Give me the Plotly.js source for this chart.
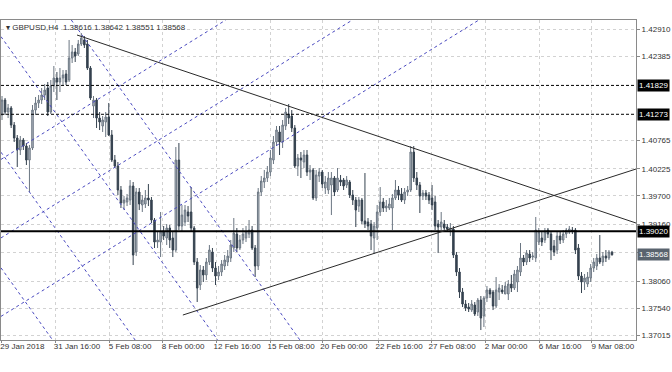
<!DOCTYPE html>
<html><head><meta charset="utf-8">
<script src="https://cdn.plot.ly/plotly-3.0.1.min.js"></script>
<style>html,body{margin:0;padding:0;background:#fff}#chart{width:672px;height:372px}</style>
</head><body><div id="chart"></div>
<script>
const symbolTitle = "GBPUSD,H4";
const lastBarText = ["1.38616", "1.38642", "1.38551", "1.38568"];

const open = [1.41259,1.41548,1.41317,1.41394,1.41066,1.40816,1.40585,1.40778,1.40662,1.40392,
1.40624,1.41355,1.41490,1.41548,1.41644,1.41779,1.41317,1.41818,1.41972,1.41895,
1.41972,1.42049,1.41933,1.42357,1.42473,1.42434,1.42627,1.42704,1.42627,1.42164,
1.41432,1.41548,1.41201,1.41047,1.41124,1.41221,1.40874,1.40392,1.40277,1.39815,
1.39564,1.39584,1.39622,1.39892,1.38621,1.39776,1.39526,1.39545,1.39661,1.39622,
1.39237,1.38813,1.38813,1.39006,1.38890,1.39083,1.38890,1.38659,1.40392,1.39121,
1.39198,1.39391,1.39391,1.39083,1.38428,1.37985,1.38274,1.38178,1.38428,1.38621,
1.38312,1.38158,1.38235,1.38351,1.38428,1.38505,1.38698,1.38967,1.38698,1.38852,
1.38890,1.38967,1.39044,1.38698,1.38351,1.39776,1.39969,1.40046,1.40161,1.40392,
1.40739,1.40932,1.40739,1.41047,1.41278,1.41240,1.41009,1.40277,1.40431,1.40354,
1.40489,1.40161,1.40200,1.39661,1.40084,1.40161,1.39853,1.39815,1.39911,1.40046,
1.39815,1.40007,1.40007,1.39911,1.39969,1.39718,1.39622,1.39506,1.39622,1.39218,
1.39198,1.39160,1.38890,1.39083,1.39391,1.39584,1.39468,1.39468,1.39468,1.39661,
1.39815,1.39738,1.39622,1.39776,1.39815,1.40547,1.40046,1.39911,1.39699,1.39757,
1.39718,1.39661,1.39584,1.39160,1.39102,1.39160,1.39102,1.39044,1.39063,1.38563,
1.38235,1.37850,1.37619,1.37561,1.37503,1.37600,1.37465,1.37696,1.37388,1.37735,
1.37889,1.37850,1.37580,1.37850,1.37889,1.37812,1.37812,1.38004,1.37927,1.38043,
1.38235,1.38505,1.38428,1.38582,1.38524,1.38505,1.38813,1.38890,1.38852,1.39044,
1.38967,1.38736,1.38659,1.38929,1.38852,1.38967,1.39006,1.39044,1.39044,1.38698,
1.38158,1.38043,1.38004,1.38120,1.38312,1.38351,1.38505,1.38428,1.38543,1.38505,
1.38616];

const high = [1.41625,1.41587,1.41471,1.41432,1.41124,1.40874,1.40855,1.40816,1.40720,1.40681,
1.41452,1.41606,1.41644,1.41779,1.41856,1.41895,1.41933,1.42203,1.42087,1.42164,
1.42126,1.42126,1.42704,1.42607,1.42550,1.42704,1.42838,1.42781,1.42704,1.42203,
1.41625,1.41587,1.41317,1.41240,1.41317,1.41490,1.40970,1.40489,1.40354,1.39892,
1.39699,1.39738,1.40007,1.39969,1.39853,1.39853,1.39718,1.39815,1.39930,1.39680,
1.39275,1.39006,1.39391,1.39121,1.39160,1.39141,1.39006,1.40643,1.40720,1.39526,
1.39526,1.39506,1.39872,1.39121,1.38505,1.38370,1.38351,1.38505,1.38755,1.38698,
1.38428,1.38351,1.38466,1.38563,1.38659,1.38852,1.39275,1.39083,1.38948,1.39083,
1.39121,1.39237,1.39121,1.38755,1.39853,1.40084,1.40200,1.40277,1.40585,1.40855,
1.41047,1.41047,1.41163,1.41394,1.41471,1.41355,1.41066,1.40508,1.40547,1.40585,
1.40585,1.40296,1.40238,1.40200,1.40238,1.40200,1.40084,1.40161,1.40161,1.40084,
1.40238,1.40104,1.40046,1.40084,1.40007,1.39815,1.39680,1.39680,1.39661,1.40142,
1.39275,1.39237,1.39198,1.39526,1.39872,1.39661,1.39622,1.39661,1.39738,1.40007,
1.39892,1.39853,1.39853,1.39892,1.40662,1.40662,1.40161,1.39969,1.39815,1.39815,
1.39776,1.39911,1.39699,1.39237,1.39391,1.39237,1.39160,1.39179,1.39121,1.38621,
1.38312,1.37927,1.37696,1.37638,1.37696,1.37658,1.37735,1.37773,1.37773,1.37966,
1.37927,1.37889,1.38139,1.38004,1.37985,1.38043,1.38081,1.38178,1.38274,1.38351,
1.38794,1.38563,1.38659,1.38659,1.38621,1.39295,1.39083,1.39006,1.39083,1.39083,
1.39006,1.38852,1.39006,1.39006,1.39044,1.39083,1.39121,1.39102,1.39083,1.38775,
1.38235,1.38197,1.38235,1.38389,1.38505,1.38582,1.38948,1.38621,1.38659,1.38659,
1.38642];

const low = [1.41163,1.41259,1.41201,1.41009,1.40739,1.40258,1.40489,1.40585,1.40296,1.39776,
1.40585,1.41259,1.41394,1.41471,1.41548,1.41240,1.41278,1.41702,1.41548,1.41702,
1.41837,1.41837,1.41895,1.42261,1.42280,1.42395,1.42588,1.42550,1.42126,1.41548,
1.41201,1.41009,1.40970,1.40932,1.40835,1.40855,1.40354,1.40238,1.39718,1.39468,
1.39429,1.39506,1.39526,1.38370,1.38543,1.39429,1.39391,1.39468,1.39506,1.39179,
1.38698,1.38698,1.38524,1.38852,1.38755,1.38698,1.38524,1.38621,1.39044,1.39006,
1.39121,1.39198,1.39006,1.38370,1.37658,1.37889,1.38043,1.38081,1.38370,1.38235,
1.37985,1.38081,1.38158,1.38274,1.38351,1.38428,1.38621,1.38621,1.38659,1.38775,
1.38813,1.38890,1.38659,1.38139,1.38274,1.39699,1.39853,1.39969,1.40084,1.40315,
1.40662,1.40489,1.40624,1.40970,1.41086,1.40932,1.40238,1.40084,1.40046,1.40238,
1.40084,1.40007,1.39622,1.39603,1.39969,1.39853,1.39738,1.39738,1.39333,1.39699,
1.39776,1.39892,1.39815,1.39853,1.39661,1.39526,1.39102,1.39391,1.39160,1.39083,
1.39044,1.38659,1.38582,1.38852,1.39314,1.39391,1.39391,1.39429,1.39044,1.39622,
1.39622,1.39584,1.39545,1.39699,1.39776,1.39969,1.39815,1.39372,1.39622,1.39622,
1.39545,1.39429,1.39044,1.38601,1.39044,1.39006,1.39006,1.38929,1.38505,1.38158,
1.37735,1.37561,1.37484,1.37465,1.37465,1.37388,1.37388,1.37118,1.37176,1.37658,
1.37735,1.37503,1.37542,1.37696,1.37812,1.37812,1.37696,1.37850,1.37889,1.37850,
1.38158,1.38351,1.38370,1.38428,1.38466,1.38428,1.38755,1.38736,1.38794,1.38890,
1.38466,1.38543,1.38582,1.38775,1.38794,1.38890,1.38967,1.38967,1.38582,1.38081,
1.37831,1.37889,1.37946,1.38043,1.38235,1.38274,1.38389,1.38351,1.38428,1.38466,
1.38551];

const close = [1.41548,1.41317,1.41394,1.41066,1.40816,1.40585,1.40778,1.40662,1.40392,1.40624,
1.41355,1.41490,1.41548,1.41644,1.41741,1.41317,1.41818,1.41972,1.41895,1.41972,
1.42030,1.41895,1.42357,1.42473,1.42395,1.42627,1.42742,1.42607,1.42164,1.41587,
1.41548,1.41201,1.41124,1.41163,1.41221,1.40874,1.40392,1.40277,1.39815,1.39564,
1.39622,1.39661,1.39892,1.38563,1.39776,1.39545,1.39622,1.39661,1.39622,1.39237,
1.38813,1.38852,1.39006,1.38929,1.39083,1.38852,1.38659,1.40392,1.39121,1.39333,
1.39429,1.39314,1.39083,1.38428,1.37927,1.38274,1.38178,1.38428,1.38659,1.38312,
1.38158,1.38235,1.38389,1.38466,1.38543,1.38755,1.38986,1.38698,1.38852,1.38967,
1.39006,1.39044,1.38698,1.38351,1.39776,1.39988,1.40046,1.40161,1.40431,1.40739,
1.40970,1.40739,1.41066,1.41317,1.41201,1.41009,1.40277,1.40431,1.40392,1.40489,
1.40161,1.40200,1.39661,1.40104,1.40161,1.39930,1.39969,1.40046,1.40046,1.39776,
1.40046,1.39969,1.39892,1.40007,1.39718,1.39622,1.39429,1.39622,1.39218,1.39160,
1.39121,1.38929,1.39121,1.39391,1.39584,1.39468,1.39506,1.39545,1.39661,1.39815,
1.39718,1.39622,1.39776,1.39815,1.40547,1.40046,1.39911,1.39699,1.39757,1.39699,
1.39622,1.39526,1.39121,1.39102,1.39198,1.39083,1.39063,1.39083,1.38563,1.38235,
1.37850,1.37619,1.37542,1.37523,1.37619,1.37426,1.37696,1.37349,1.37735,1.37889,
1.37812,1.37580,1.37889,1.37927,1.37850,1.37966,1.38004,1.37927,1.38197,1.38274,
1.38505,1.38428,1.38601,1.38505,1.38543,1.39044,1.39006,1.38813,1.39025,1.38967,
1.38659,1.38621,1.38929,1.38852,1.38967,1.39044,1.39063,1.39025,1.38659,1.38158,
1.38043,1.38120,1.38139,1.38312,1.38428,1.38505,1.38428,1.38543,1.38505,1.38621,
1.38568];

const timeTickBar = [-0.2, 17.7, 35.1, 52.5, 70.2, 87.9, 105.2, 123.3, 140.7, 158.4, 176.1, 193.4];
const timeTickText = ["29 Jan 2018","31 Jan 16:00","5 Feb 08:00","8 Feb 00:00","12 Feb 16:00","15 Feb 08:00",
  "20 Feb 00:00","22 Feb 16:00","27 Feb 08:00","2 Mar 00:00","6 Mar 16:00","9 Mar 08:00"];
const priceTicks = [1.42910,1.42385,1.40765,1.40225,1.39700,1.39160,1.38620,1.38060,1.37540,1.37015];
const priceTickText = ["1.42910","1.42385","1.40765","1.40225","1.39700","1.39160","","1.38060","1.37540","1.37015"];

const dashedLevels = [1.41829, 1.41273];
const supportLevel = 1.39020;
const lastPrice = 1.38568;
// trend lines: [bar0, price0, bar1, price1]
const trendLines = [[24.6, 1.42800, 207.87, 1.39179], [59.3, 1.37407, 207.87, 1.40219]];
const channelLines = [
  [22.72, 1.43089, 97.67, 1.36926],
  [-0.33, 1.42769, 70.72, 1.36926],
  [-0.33, 1.40543, 43.65, 1.36926],
  [-0.33, 1.38316, 16.59, 1.36926],
  [-0.33, 1.40404, 73.38, 1.43089],
  [-0.33, 1.38892, 114.89, 1.43089],
  [-0.33, 1.37381, 156.36, 1.43089]
];

const barPos = open.map((_, i) => i);
const FONT = "Liberation Sans, Arial, sans-serif";

const shapes = [];
channelLines.forEach(l => shapes.push({type:"line", xref:"x", yref:"y", x0:l[0], y0:l[1], x1:l[2], y1:l[3],
  line:{color:"#4a4ac0", width:1, dash:"3px,3px"}}));
dashedLevels.forEach(p => shapes.push({type:"line", xref:"paper", yref:"y", x0:0, x1:1, y0:p, y1:p,
  line:{color:"#000", width:1, dash:"3px,2px"}}));
shapes.push({type:"line", xref:"paper", yref:"y", x0:0, x1:1, y0:supportLevel, y1:supportLevel,
  line:{color:"#000", width:2}});
trendLines.forEach(l => shapes.push({type:"line", xref:"x", yref:"y", x0:l[0], y0:l[1], x1:l[2], y1:l[3],
  line:{color:"#2a2a2a", width:1}}));

const annotations = [];
annotations.push({xref:"paper", yref:"paper", x:0, y:1, xanchor:"left", yanchor:"top", xshift:3, yshift:-1,
  showarrow:false, text:"\u25BE " + symbolTitle + "  " + lastBarText.join(" "),
  font:{family:FONT, size:8, color:"#333"}});
function priceBox(p, txt, bg){
  annotations.push({xref:"paper", yref:"y", x:1, y:p, xanchor:"left", yanchor:"middle", xshift:1,
    showarrow:false, text:txt, bgcolor:bg, borderpad:1, font:{family:FONT, size:8, color:"#fff"}});
}
priceBox(dashedLevels[0], "1.41829", "#000");
priceBox(dashedLevels[1], "1.41273", "#000");
priceBox(supportLevel, "1.39020", "#000");
priceBox(lastPrice, "1.38568", "#59636e");

const trace = {
  type:"candlestick", x:barPos, open:open, high:high, low:low, close:close,
  increasing:{line:{color:"#6b7682", width:1}, fillcolor:"#b6bdc5"},
  decreasing:{line:{color:"#35424f", width:1}, fillcolor:"#35424f"},
  whiskerwidth:0, hoverinfo:"skip", showlegend:false
};

const layout = {
  width:672, height:372,
  margin:{l:1, r:36, t:20, b:32},
  paper_bgcolor:"#fff", plot_bgcolor:"#fff",
  showlegend:false, dragmode:false,
  font:{family:FONT, size:8, color:"#333"},
  xaxis:{type:"linear", range:[-0.328, 207.87], rangeslider:{visible:false},
    tickmode:"array", tickvals:timeTickBar, ticktext:timeTickText, ticklabelshift:21, ticklabelstandoff:-4,
    ticks:"outside", ticklen:2, tickcolor:"#8a8a8a",
    showgrid:true, gridcolor:"#d2d2d2", griddash:"dot", gridwidth:1,
    showline:true, mirror:true, linecolor:"#8a8a8a", linewidth:1, zeroline:false,
    tickfont:{family:FONT, size:8, color:"#333"}, automargin:false, fixedrange:true},
  yaxis:{range:[1.36926, 1.43089], side:"right",
    tickmode:"array", tickvals:priceTicks, ticktext:priceTickText,
    ticks:"outside", ticklen:3, tickcolor:"#8a8a8a",
    showgrid:true, gridcolor:"#d2d2d2", griddash:"dot", gridwidth:1,
    showline:true, mirror:true, linecolor:"#8a8a8a", linewidth:1, zeroline:false,
    tickfont:{family:FONT, size:8, color:"#333"}, automargin:false, fixedrange:true},
  shapes:shapes, annotations:annotations, boxgap:0.3
};

Plotly.newPlot("chart", [trace], layout, {displayModeBar:false, staticPlot:true});
</script>
</body></html>
